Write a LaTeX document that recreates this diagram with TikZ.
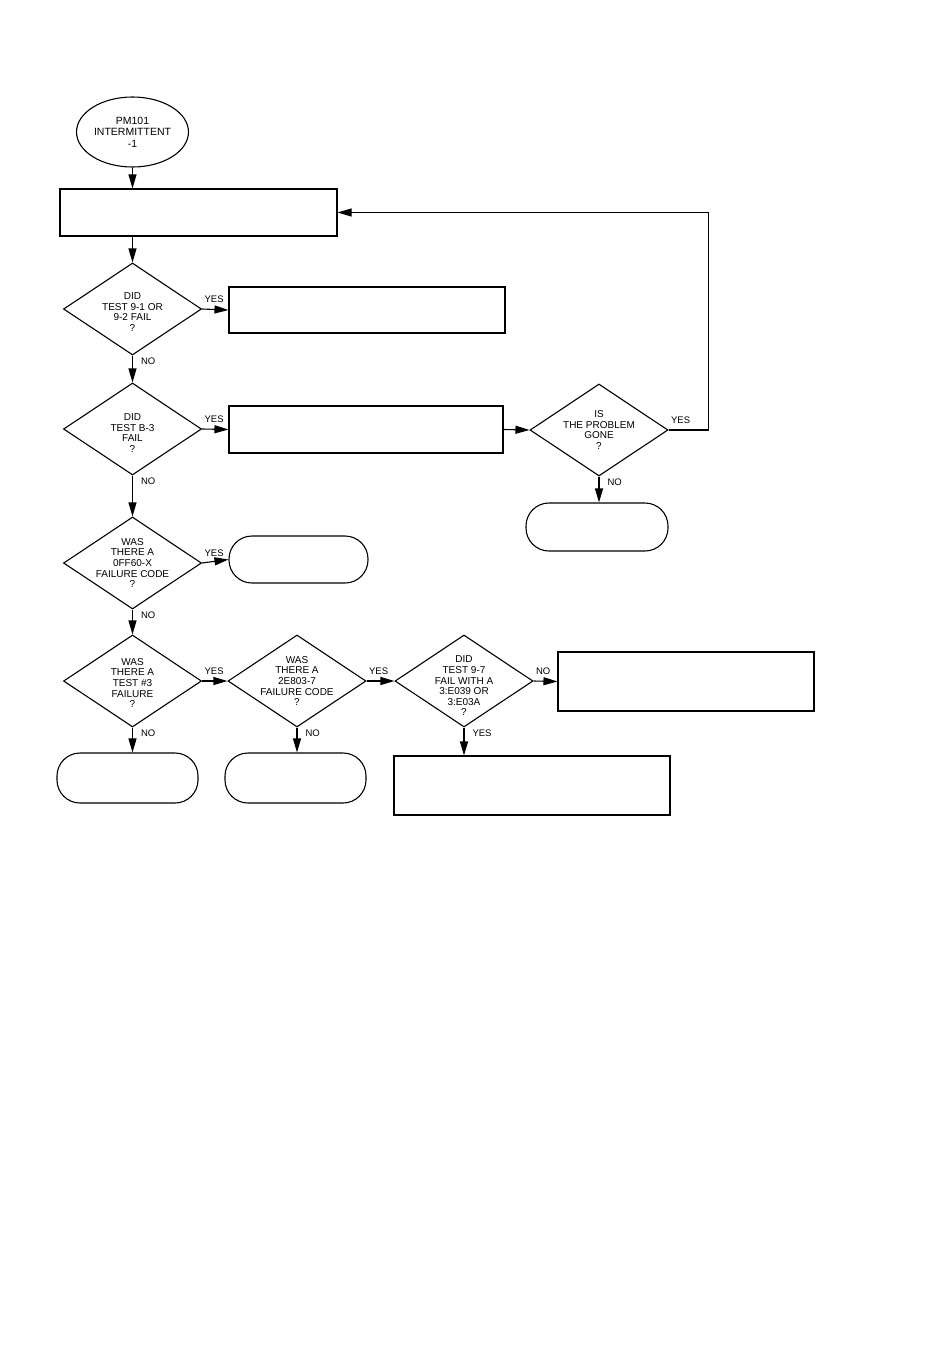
\documentclass[tikz,border=0pt]{standalone}
\usepackage{fontspec}
\setmainfont{Liberation Sans}
\usetikzlibrary{arrows.meta,shapes.geometric}
\begin{document}
\begin{tikzpicture}[x=1pt,y=-1pt,line width=1.1pt,
  arr/.style={-{Triangle[length=14pt,width=8pt]}},
  boxx/.style={draw,rectangle,inner sep=0pt},
  term/.style={draw,rectangle,rounded corners=23pt,inner sep=0pt},
  dia/.style={draw,diamond,inner sep=0pt,minimum width=138pt,minimum height=92pt},
  dtext/.style={font=\fontsize{10}{10.6}\selectfont,align=center,inner sep=0pt},
  hlab/.style={font=\fontsize{9.5}{10}\selectfont,inner sep=1pt,anchor=south west,pos=0,xshift=1pt,yshift=5pt},
  vlab/.style={font=\fontsize{9.5}{10}\selectfont,inner sep=1pt,anchor=north west,pos=0,xshift=7pt,yshift=-1pt}]
\fill[white] (0,0) rectangle (950,1360);
\useasboundingbox (0,0) rectangle (950,1360);

% start
\node[draw,ellipse,minimum width=112pt,minimum height=70pt,inner sep=0pt,
      font=\fontsize{10.5}{11.5}\selectfont,align=center] (start) at (132.5,132) {PM101\\INTERMITTENT\\-1};

% boxes
\node[boxx,minimum width=277pt,minimum height=47pt] (box1) at (198.5,212.5) {};
\node[boxx,minimum width=276pt,minimum height=46pt] (box2) at (367,310) {};
\node[boxx,minimum width=274pt,minimum height=47pt] (box3) at (366,429.5) {};
\node[boxx,minimum width=256pt,minimum height=59pt] (box4) at (686,681.5) {};
\node[boxx,minimum width=276pt,minimum height=59pt] (box5) at (532,785.5) {};

% terminals
\node[term,minimum width=142pt,minimum height=48pt] (t1) at (597,527) {};
\node[term,minimum width=139pt,minimum height=47pt] (t2) at (298.5,559.5) {};
\node[term,minimum width=141pt,minimum height=50pt] (t3) at (127.5,778) {};
\node[term,minimum width=141pt,minimum height=50pt] (t4) at (295.5,778) {};

% decisions
\node[dia] (d1) at (132.5,309) {};
\node[dtext,yshift=-3pt] at (d1) {DID\\TEST 9-1 OR\\9-2 FAIL\\?};
\node[dia] (d2) at (132.5,429) {};
\node[dtext,yshift=-4pt] at (d2) {DID\\TEST B-3\\FAIL\\?};
\node[dia] (d3) at (599,430) {};
\node[dtext] at (d3) {IS\\THE PROBLEM\\GONE\\?};
\node[dia] (d4) at (132.5,563) {};
\node[dtext] at (d4) {WAS\\THERE A\\0FF60-X\\FAILURE CODE\\?};
\node[dia] (d5) at (132.5,681) {};
\node[dtext,yshift=-2pt] at (d5) {WAS\\THERE A\\TEST \#3\\FAILURE\\?};
\node[dia] (d6) at (297,681) {};
\node[dtext] at (d6) {WAS\\THERE A\\2E803-7\\FAILURE CODE\\?};
\node[dia] (d7) at (464,681) {};
\node[dtext,yshift=-5pt] at (d7) {DID\\TEST 9-7\\FAIL WITH A\\3:E039 OR\\3:E03A\\?};

% connectors
\draw[arr] (start.south) -- (start.south |- box1.north);
\draw[arr] (d1.north |- box1.south) -- (d1.north);
\draw[arr] (d1.east) -- (box2.west) node[hlab] {YES};
\draw[arr] (d1.south) -- (d2.north) node[vlab] {NO};
\draw[arr] (d2.east) -- (box3.west) node[hlab] {YES};
\draw[arr] (box3.east) -- (d3.west);
\draw[arr] (d3.east) -- ++(40,0) node[hlab] {YES} |- (box1.east);
\draw[arr] (d3.south) -- (d3.south |- t1.north) node[vlab] {NO};
\draw[arr] (d2.south) -- (d4.north) node[vlab] {NO};
\draw[arr] (d4.east) -- (t2.west) node[hlab] {YES};
\draw[arr] (d4.south) -- (d5.north) node[vlab] {NO};
\draw[arr] (d5.east) -- (d6.west) node[hlab] {YES};
\draw[arr] (d5.south) -- (d5.south |- t3.north) node[vlab] {NO};
\draw[arr] (d6.east) -- (d7.west) node[hlab] {YES};
\draw[arr] (d6.south) -- (d6.south |- t4.north) node[vlab] {NO};
\draw[arr] (d7.east) -- (box4.west) node[hlab] {NO};
\draw[arr] (d7.south) -- (d7.south |- box5.north) node[vlab] {YES};
\end{tikzpicture}
\end{document}
